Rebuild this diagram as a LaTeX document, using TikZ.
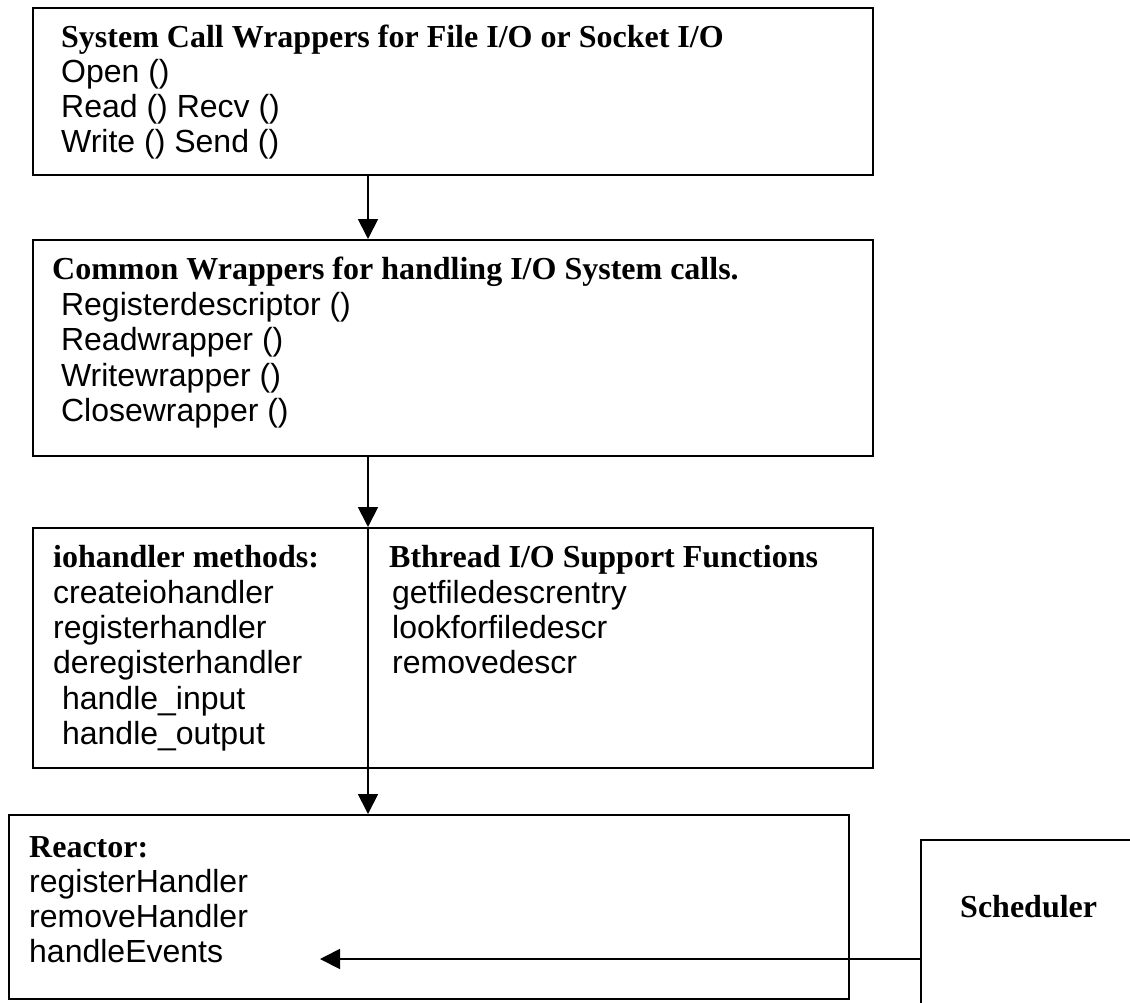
\documentclass[tikz,border=0pt]{standalone}
\usepackage{fontspec}
\setmainfont{Liberation Sans}
\newfontfamily\hd{Liberation Serif}
\usetikzlibrary{arrows.meta}

\begin{document}
\begin{tikzpicture}[x=1pt,y=-1pt,
  frame/.style={draw, line width=1.8pt, inner sep=0pt, anchor=north west},
  body/.style={anchor=base west, inner sep=0pt, font=\fontsize{32}{35}\selectfont},
  head/.style={anchor=base west, inner sep=0pt, font=\fontsize{32}{35}\selectfont\hd\bfseries},
  arr/.style={line width=1.8pt, -{Triangle[length=20pt,width=20pt]}}]

% page area; the scheduler box runs off the right and bottom edges
\path[use as bounding box, clip] (0,0) rectangle (1130,1002);

% boxes
\node[frame, minimum width=840pt, minimum height=167pt] (sys) at (32,7) {};
\node[frame, minimum width=840pt, minimum height=216pt] (wrap) at (32,239) {};
\node[frame, minimum width=840pt, minimum height=240pt] (io) at (32,527) {};
\node[frame, minimum width=840pt, minimum height=184pt] (reactor) at (8,814) {};
\node[frame, minimum width=260pt, minimum height=220pt] (sched) at (920,839) {};

% vertical axis shared by the arrows and the divider
\coordinate (axis) at (368,0);
\coordinate (evt) at (320,959);

% system call wrappers
\node[head] (t1) at (61,47) {System Call Wrappers for File I/O or Socket I/O};
\node[body] (t1a) at (61,82) {Open ()};
\node[body] (t1b) at (61,117) {Read () Recv ()};
\node[body] (t1c) at (61,152) {Write () Send ()};

% common wrappers
\node[head] (t2) at (52,279) {Common Wrappers for handling I/O System calls.};
\node[body] (t2a) at (52,315) {\ Registerdescriptor ()};
\node[body] (t2b) at (52,350) {\ Readwrapper ()};
\node[body] (t2c) at (52,386) {\ Writewrapper ()};
\node[body] (t2d) at (52,421) {\ Closewrapper ()};

% iohandler methods
\node[head] (t3) at (53,567) {iohandler methods:};
\node[body] (t3a) at (53,603) {createiohandler};
\node[body] (t3b) at (53,638) {registerhandler};
\node[body] (t3c) at (53,673) {deregisterhandler};
\node[body] (t3d) at (53,709) {\ handle\_input};
\node[body] (t3e) at (53,744) {\ handle\_output};

% bthread support functions
\node[head] (t4) at (389,567) {Bthread I/O Support Functions};
\node[body] (t4a) at (392,603) {getfiledescrentry};
\node[body] (t4b) at (392,638) {lookforfiledescr};
\node[body] (t4c) at (392,673) {removedescr};

% reactor
\node[head] (t5) at (29,857) {Reactor:};
\node[body] (t5a) at (29,892) {registerHandler};
\node[body] (t5b) at (29,927) {removeHandler};
\node[body] (t5c) at (29,962) {handleEvents};

% scheduler
\node[head] (t6) at (960,917) {Scheduler};

% connectors
\draw[arr] (sys.south -| axis) -- (wrap.north -| axis);
\draw[arr] (wrap.south -| axis) -- (io.north -| axis);
\draw[arr] (io.north -| axis) -- (reactor.north -| axis);
\draw[arr] (sched.west |- evt) -- (evt);
\end{tikzpicture}
\end{document}
